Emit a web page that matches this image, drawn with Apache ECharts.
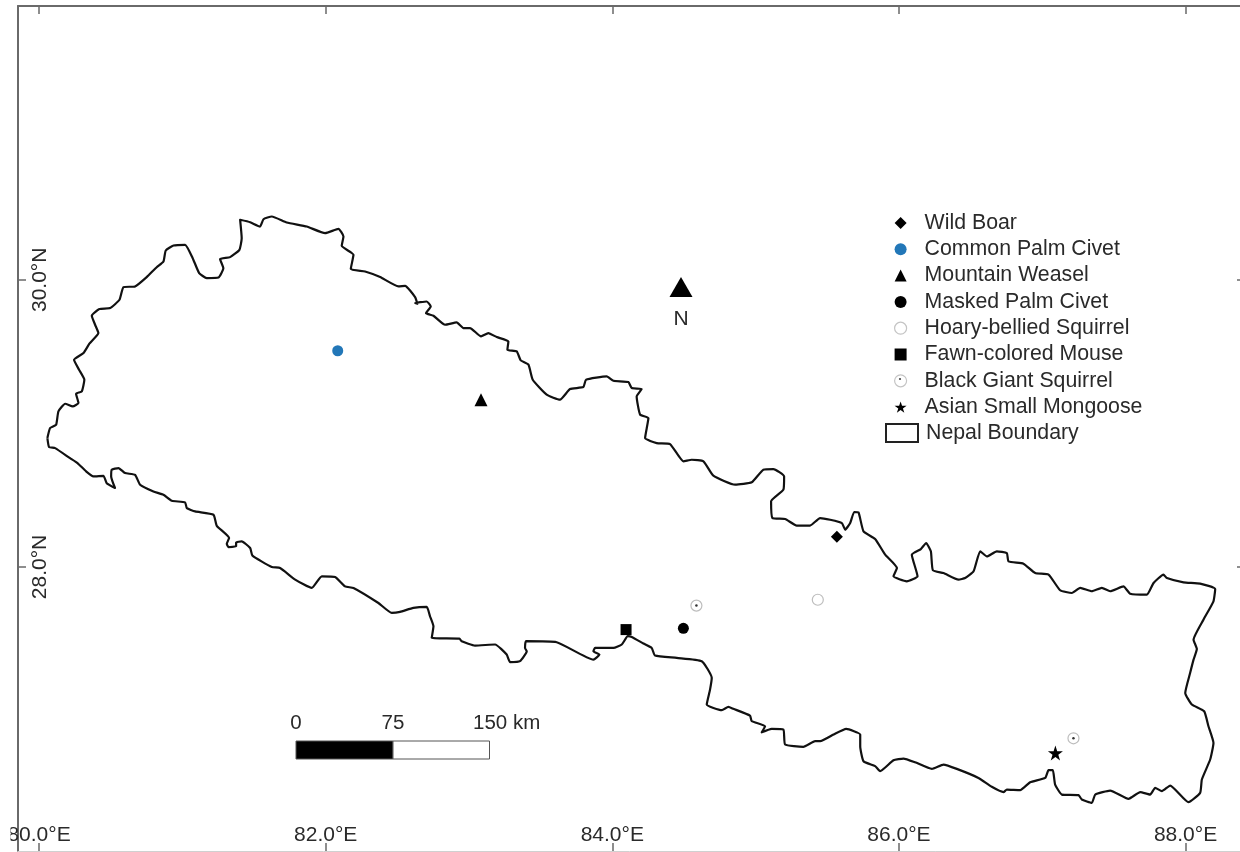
<!DOCTYPE html>
<html>
<head>
<meta charset="utf-8">
<style>html,body{margin:0;padding:0;background:#fff}#c{width:1240px;height:852px}</style>
<script src="https://cdn.jsdelivr.net/npm/echarts@6/dist/echarts.min.js"></script>
</head>
<body>
<div id="c"></div>
<script>
const lonTicks = [80, 82, 84, 86, 88];
const latTicks = [28, 30];
const wildBoar = [[85.567, 28.211]];
const commonPalmCivet = [[82.084, 29.506]];
const mountainWeasel = [[83.084, 29.165]];
const maskedPalmCivet = [[84.496, 27.573]];
const hoaryBelliedSquirrel = [[85.434, 27.772]];
const fawnColoredMouse = [[84.096, 27.564]];
const blackGiantSquirrel = [[84.587, 27.731], [87.218, 26.807]];
const asianSmallMongoose = [[87.092, 26.705]];
const scaleLabels = ['0', '75', '150 km'];
const nepalBoundary = [
[80.058,28.898],[80.077,28.968],[80.119,28.991],[80.135,29.084],[80.182,29.137],[80.235,29.118],[80.275,29.142],[80.258,29.207],[80.298,29.223],[80.316,29.304],[80.279,29.374],[80.244,29.443],[80.310,29.490],[80.351,29.555],[80.414,29.629],[80.391,29.687],[80.368,29.750],[80.421,29.796],[80.496,29.803],[80.561,29.861],[80.589,29.949],[80.670,29.954],[80.751,30.019],[80.821,30.088],[80.868,30.128],[80.884,30.204],[80.938,30.239],[81.019,30.244],[81.072,30.151],[81.117,30.047],[81.170,30.012],[81.252,30.016],[81.286,30.081],[81.263,30.144],[81.333,30.158],[81.398,30.209],[81.414,30.290],[81.403,30.418],[81.473,30.401],[81.542,30.371],[81.566,30.422],[81.624,30.441],[81.728,30.399],[81.868,30.371],[81.996,30.325],[82.089,30.355],[82.124,30.302],[82.112,30.237],[82.194,30.174],[82.175,30.075],[82.275,30.058],[82.380,30.019],[82.508,29.954],[82.554,29.958],[82.624,29.880],[82.640,29.833],
[82.624,29.838],[82.705,29.849],[82.733,29.815],[82.700,29.768],[82.752,29.750],[82.833,29.687],[82.914,29.703],[82.961,29.664],[83.007,29.664],[83.084,29.606],[83.135,29.629],[83.194,29.601],[83.275,29.571],[83.268,29.513],[83.333,29.501],[83.361,29.439],[83.415,29.409],[83.445,29.304],[83.542,29.200],[83.635,29.165],[83.705,29.239],[83.798,29.253],[83.817,29.304],[83.961,29.327],[84.008,29.297],[84.112,29.288],[84.136,29.246],[84.205,29.239],[84.170,29.188],[84.194,29.061],[84.252,29.037],[84.229,28.898],[84.310,28.863],[84.403,28.856],[84.496,28.736],[84.554,28.747],[84.636,28.736],[84.705,28.636],[84.857,28.573],[84.973,28.590],[85.054,28.678],[85.124,28.682],[85.199,28.631],[85.194,28.539],[85.108,28.457],[85.117,28.341],[85.206,28.334],[85.287,28.288],[85.380,28.288],[85.450,28.341],
[85.520,28.329],[85.602,28.306],[85.625,28.260],[85.660,28.306],[85.688,28.383],[85.718,28.380],[85.753,28.248],[85.834,28.195],[85.904,28.086],[85.986,27.993],[85.962,27.935],[86.055,27.900],[86.130,27.935],[86.090,28.086],[86.153,28.125],[86.190,28.167],[86.223,28.109],[86.237,27.977],[86.311,27.958],[86.416,27.912],[86.462,27.923],[86.521,27.970],[86.567,28.109],[86.614,28.074],[86.683,28.109],[86.753,28.097],[86.765,28.039],[86.869,28.023],[86.951,27.958],[87.044,27.947],[87.125,27.838],[87.207,27.819],[87.265,27.854],[87.346,27.831],[87.416,27.854],[87.474,27.831],[87.567,27.865],[87.614,27.814],[87.730,27.807],[87.777,27.889],[87.846,27.947],[87.870,27.923],[87.986,27.893],[88.102,27.884],[88.207,27.847],[88.195,27.761],[88.125,27.633],[88.056,27.494],[88.079,27.429],[88.056,27.355],[88.032,27.262],[87.998,27.123],[88.044,27.042],[88.130,26.995],[88.160,26.891],[88.195,26.775],[88.172,26.659],[88.114,26.520],[88.102,26.427],[88.021,26.362],[87.893,26.478],[87.835,26.439],[87.788,26.462],[87.753,26.415],[87.684,26.432],[87.602,26.385],[87.474,26.443],[87.370,26.415],[87.346,26.357],[87.276,26.381],[87.253,26.411],[87.137,26.415],[87.090,26.485],[87.074,26.585],[87.044,26.585],[87.021,26.531],[86.916,26.501],[86.846,26.446],[86.753,26.450],[86.730,26.432],[86.648,26.469],[86.555,26.531],[86.404,26.594],[86.311,26.624],[86.230,26.594],[86.113,26.640],[86.032,26.666],[85.962,26.654],[85.869,26.578],[85.834,26.613],[85.753,26.647],[85.730,26.752],[85.730,26.833],[85.632,26.872],[85.544,26.833],[85.451,26.787],
[85.415,26.787],[85.333,26.747],[85.206,26.764],[85.194,26.868],[85.112,26.873],[85.043,26.849],[85.066,26.891],[84.973,26.926],[84.961,26.965],[84.845,27.012],[84.810,27.026],[84.764,27.003],[84.659,27.042],[84.682,27.146],[84.694,27.228],[84.624,27.344],[84.450,27.367],[84.298,27.383],[84.275,27.436],[84.217,27.467],[84.136,27.513],[84.108,27.518],[84.066,27.460],[84.008,27.436],[83.880,27.436],[83.868,27.413],[83.910,27.390],[83.868,27.355],[83.612,27.476],[83.398,27.483],[83.391,27.436],[83.403,27.413],[83.356,27.344],[83.287,27.337],[83.263,27.390],[83.182,27.460],[83.042,27.453],[82.949,27.483],[82.933,27.501],[82.740,27.506],[82.752,27.587],[82.728,27.657],[82.705,27.722],[82.612,27.715],[82.519,27.687],
[82.461,27.680],[82.368,27.749],[82.194,27.854],[82.135,27.865],[82.066,27.930],[81.973,27.935],[81.903,27.854],[81.787,27.912],[81.682,27.993],[81.624,28.000],[81.489,28.079],[81.473,28.132],[81.414,28.178],[81.375,28.171],[81.375,28.144],[81.321,28.139],[81.310,28.162],[81.326,28.202],[81.240,28.287],[81.217,28.364],[81.089,28.387],[81.031,28.410],[81.019,28.450],[80.926,28.461],[80.868,28.503],[80.798,28.526],[80.705,28.573],[80.670,28.642],[80.600,28.654],[80.554,28.689],[80.507,28.677],[80.503,28.631],[80.530,28.550],[80.472,28.584],[80.449,28.635],[80.379,28.631],[80.328,28.666],[80.268,28.724],[80.216,28.758],[80.112,28.828],[80.070,28.835],[80.058,28.898]
];

const FONT = '"Liberation Sans", Arial, sans-serif';
const INK = '#2a2a2a';
const FRAME = '#6a6a6a';
const STAR = 'path://M50 0 L61.8 35.3 L98.9 35.3 L68.9 57.1 L80.3 92.7 L50 70.9 L19.7 92.7 L31.1 57.1 L1.1 35.3 L38.2 35.3 Z';

const lonLabel = v => v.toFixed(1) + '°E';
const latLabel = v => v.toFixed(1) + '°N';
const tickStyle = { show: true, inside: true, length: 8, lineStyle: { color: FRAME, width: 1.5 } };
const lineStyle = { show: true, onZero: false, lineStyle: { color: FRAME, width: 2 } };
const bottomLine = { show: true, onZero: false, lineStyle: { color: '#d0d0d0', width: 1 } };

function pts(name, data, symbol, size, itemStyle, z) {
  return { type: 'scatter', name, data, symbol, symbolSize: size, itemStyle: Object.assign({ opacity: 1 }, itemStyle), z: z || 5, silent: true };
}

const chart = echarts.init(document.getElementById('c'), null, { renderer: 'canvas' });
chart.setOption({
  animation: false,
  backgroundColor: '#fff',
  grid: { left: 18, top: 6, width: 1227, height: 845, show: false, outerBoundsMode: 'none', containLabel: false },
  xAxis: [
    { type: 'value', position: 'bottom', min: 79.853, max: 88.415, splitLine: { show: false }, axisLine: bottomLine,
      axisTick: Object.assign({ customValues: lonTicks }, tickStyle),
      axisLabel: { show: true, inside: true, margin: 5, fontFamily: FONT, fontSize: 21, color: INK, customValues: lonTicks, formatter: lonLabel, hideOverlap: false, showMinLabel: true, showMaxLabel: true } },
    { type: 'value', position: 'top', min: 79.853, max: 88.415, splitLine: { show: false }, axisLine: lineStyle,
      axisTick: Object.assign({ customValues: lonTicks }, tickStyle), axisLabel: { show: false } }
  ],
  yAxis: [
    { type: 'value', position: 'left', min: 26.022, max: 31.907, splitLine: { show: false }, axisLine: lineStyle,
      axisTick: Object.assign({ customValues: latTicks }, tickStyle),
      axisLabel: { show: true, inside: true, margin: 12, rotate: 90, fontFamily: FONT, fontSize: 21, color: INK, customValues: latTicks, formatter: latLabel } },
    { type: 'value', position: 'right', min: 26.022, max: 31.907, splitLine: { show: false }, axisLine: lineStyle,
      axisTick: Object.assign({ customValues: latTicks }, tickStyle), axisLabel: { show: false } }
  ],
  legend: [
    { orient: 'vertical', left: 889, top: 207, itemWidth: 12, itemHeight: 12, itemGap: 4.3, selectedMode: false,
      textStyle: { fontFamily: FONT, fontSize: 21.3, color: INK, padding: [0, 0, 0, 13], lineHeight: 22 },
      data: [
        { name: 'Wild Boar', icon: 'diamond', itemStyle: { color: '#000', opacity: 1 } },
        { name: 'Common Palm Civet', icon: 'circle', itemStyle: { color: '#2277b8', opacity: 1 } },
        { name: 'Mountain Weasel', icon: 'triangle', itemStyle: { color: '#000', opacity: 1 } },
        { name: 'Masked Palm Civet', icon: 'circle', itemStyle: { color: '#000', opacity: 1 } },
        { name: 'Hoary-bellied Squirrel', icon: 'circle', itemStyle: { color: '#fff', borderColor: '#c4c4c4', borderWidth: 1.2, opacity: 1 } },
        { name: 'Fawn-colored Mouse', icon: 'rect', itemStyle: { color: '#000', opacity: 1 } },
        { name: 'Black Giant Squirrel', icon: 'circle', itemStyle: { color: '#fff', borderColor: '#c4c4c4', borderWidth: 1.2, opacity: 1 } },
        { name: 'Asian Small Mongoose', icon: STAR, itemStyle: { color: '#000', opacity: 1 } }
      ] },
    { orient: 'vertical', left: 880, top: 417, itemWidth: 32, itemHeight: 18, selectedMode: false,
      textStyle: { fontFamily: FONT, fontSize: 21.3, color: INK, padding: [0, 0, 0, 3], lineHeight: 22 },
      data: [{ name: 'Nepal Boundary', icon: 'rect', itemStyle: { color: '#fff', borderColor: '#222', borderWidth: 2 } }] }
  ],
  series: [
    { type: 'line', name: 'Nepal Boundary', data: nepalBoundary, showSymbol: false, symbol: 'none', smooth: 0.15, silent: true,
      lineStyle: { color: '#111', width: 2.2, join: 'round' }, z: 3 },
    pts('Wild Boar', wildBoar, 'diamond', 12, { color: '#000' }),
    pts('Common Palm Civet', commonPalmCivet, 'circle', 11, { color: '#2277b8' }),
    pts('Mountain Weasel', mountainWeasel, 'triangle', 13, { color: '#000' }),
    pts('Masked Palm Civet', maskedPalmCivet, 'circle', 11, { color: '#000' }),
    pts('Hoary-bellied Squirrel', hoaryBelliedSquirrel, 'circle', 11, { color: '#fff', borderColor: '#bdbdbd', borderWidth: 1.2 }),
    pts('Fawn-colored Mouse', fawnColoredMouse, 'rect', 11, { color: '#000' }),
    pts('Black Giant Squirrel', blackGiantSquirrel, 'circle', 11, { color: '#fff', borderColor: '#bdbdbd', borderWidth: 1.2 }),
    pts('Black Giant Squirrel centre', blackGiantSquirrel, 'circle', 2.5, { color: '#333' }, 6),
    pts('Asian Small Mongoose', asianSmallMongoose, STAR, 15, { color: '#000' })
  ],
  graphic: [
    { type: 'rect', left: 0, top: 820, shape: { width: 10.5, height: 32 }, style: { fill: '#fff' }, z: 20, silent: true },
    { type: 'circle', x: 900, y: 379, shape: { cx: 0, cy: 0, r: 1.1 }, style: { fill: '#444' }, z: 20, silent: true },
    { type: 'polygon', shape: { points: [[681, 277], [692.5, 297], [669.5, 297]] }, style: { fill: '#000' }, z: 10, silent: true },
    { type: 'text', x: 681, y: 319, style: { text: 'N', fontFamily: FONT, fontSize: 21, fill: INK, align: 'center', verticalAlign: 'middle' }, z: 10, silent: true },
    { type: 'rect', shape: { x: 296, y: 741, width: 97, height: 18 }, style: { fill: '#000', stroke: '#555', lineWidth: 1 }, z: 10, silent: true },
    { type: 'rect', shape: { x: 393, y: 741, width: 96.5, height: 18 }, style: { fill: '#fff', stroke: '#555', lineWidth: 1 }, z: 10, silent: true },
    { type: 'text', x: 296, y: 723, style: { text: scaleLabels[0], fontFamily: FONT, fontSize: 20.5, fill: INK, align: 'center', verticalAlign: 'middle' }, z: 10, silent: true },
    { type: 'text', x: 393, y: 723, style: { text: scaleLabels[1], fontFamily: FONT, fontSize: 20.5, fill: INK, align: 'center', verticalAlign: 'middle' }, z: 10, silent: true },
    { type: 'text', x: 473, y: 723, style: { text: scaleLabels[2], fontFamily: FONT, fontSize: 20.5, fill: INK, align: 'left', verticalAlign: 'middle' }, z: 10, silent: true }
  ]
});
</script>
</body>
</html>
